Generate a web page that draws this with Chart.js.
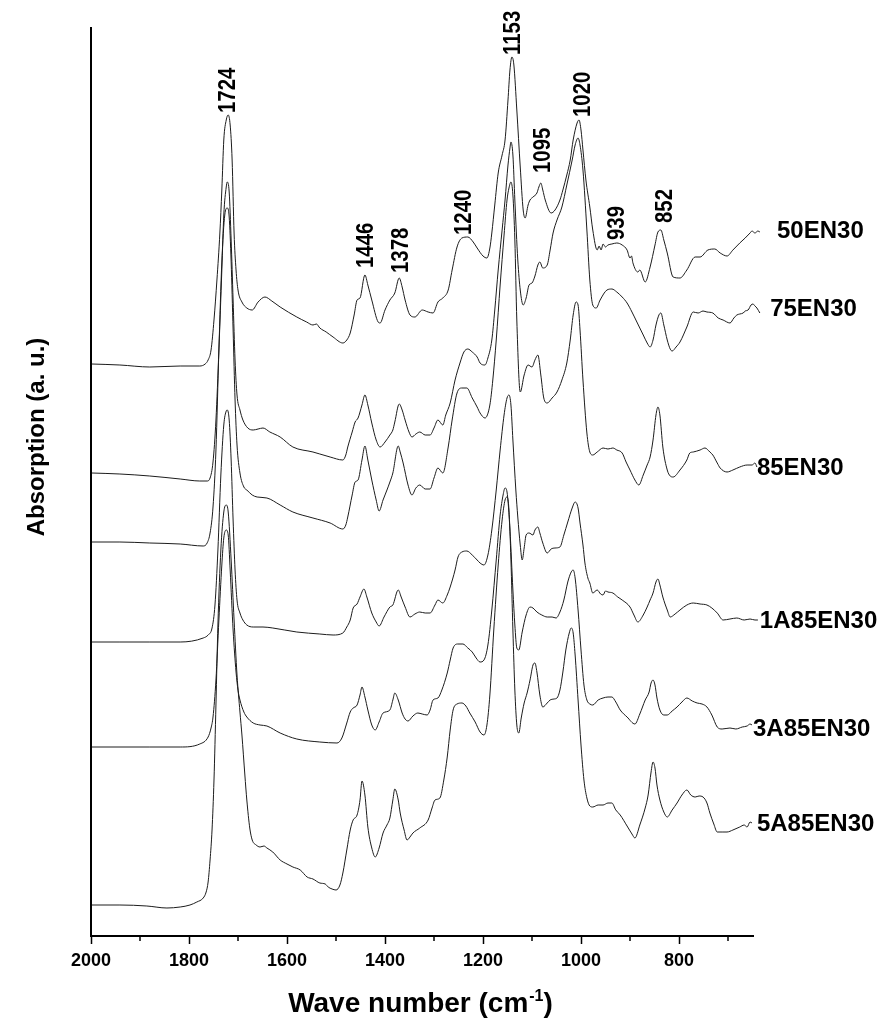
<!DOCTYPE html>
<html><head><meta charset="utf-8">
<script src="https://cdn.jsdelivr.net/npm/chart.js@4.4.1/dist/chart.umd.min.js"></script>
<style>html,body{margin:0;padding:0;background:#fff}#wrap{width:886px;height:1018px}</style>
</head><body><div id="wrap"><canvas id="c" width="886" height="1018"></canvas></div>
<script>
// [wavenumber (cm-1), absorption (a.u., stacked)]
const s50EN30 = [[1998,5.72],[1941,5.71],[1880,5.69],[1818,5.70],[1778,5.70],[1767,5.72],[1761,5.76],[1755,5.86],[1749,6.16],[1743,6.56],[1737,7.03],[1733,7.46],[1729,7.96],[1724,8.16],[1720,8.21],[1716,8.11],[1712,7.76],[1708,7.03],[1704,6.66],[1700,6.46],[1692,6.34],[1682,6.28],[1671,6.26],[1659,6.34],[1645,6.39],[1631,6.35],[1614,6.29],[1580,6.19],[1560,6.14],[1547,6.11],[1540,6.12],[1533,6.08],[1520,6.04],[1506,5.99],[1486,5.93],[1478,5.96],[1471,6.03],[1463,6.21],[1457,6.36],[1451,6.38],[1441,6.61],[1435,6.51],[1427,6.36],[1414,6.14],[1410,6.13],[1400,6.26],[1390,6.36],[1380,6.43],[1371,6.58],[1365,6.49],[1359,6.36],[1349,6.21],[1339,6.19],[1324,6.26],[1312,6.24],[1302,6.23],[1292,6.34],[1282,6.38],[1271,6.46],[1263,6.66],[1253,6.89],[1243,6.98],[1231,6.99],[1220,6.94],[1212,6.88],[1200,6.80],[1192,6.78],[1186,6.88],[1182,7.03],[1176,7.31],[1169,7.63],[1161,7.81],[1155,7.96],[1149,8.36],[1145,8.66],[1141,8.79],[1137,8.71],[1131,8.26],[1124,7.69],[1118,7.26],[1114,7.18],[1108,7.31],[1104,7.36],[1098,7.39],[1090,7.43],[1086,7.49],[1082,7.53],[1078,7.46],[1073,7.36],[1061,7.23],[1053,7.26],[1043,7.36],[1037,7.46],[1029,7.61],[1022,7.76],[1016,7.96],[1008,8.13],[1004,8.16],[1000,8.06],[996,7.86],[990,7.56],[982,7.29],[976,7.06],[967,6.86],[963,6.90],[959,6.86],[955,6.92],[950,6.89],[945,6.91],[937,6.92],[927,6.93],[916,6.91],[906,6.86],[900,6.78],[897,6.80],[894,6.73],[884,6.64],[880,6.66],[869,6.54],[859,6.69],[849,6.91],[843,7.04],[837,7.06],[831,6.96],[824,6.83],[812,6.59],[798,6.58],[784,6.66],[767,6.79],[757,6.79],[741,6.86],[727,6.87],[716,6.83],[702,6.80],[690,6.86],[676,6.93],[665,6.98],[655,7.03],[651,7.05],[645,7.03],[639,7.05],[635,7.04]];
const s75EN30 = [[1998,4.63],[1941,4.62],[1880,4.60],[1818,4.57],[1778,4.55],[1763,4.55],[1757,4.58],[1751,4.74],[1745,5.16],[1739,5.86],[1733,6.66],[1729,7.21],[1724,7.49],[1722,7.54],[1718,7.44],[1714,6.96],[1710,6.36],[1706,5.76],[1702,5.41],[1696,5.26],[1690,5.16],[1680,5.08],[1669,5.06],[1659,5.07],[1649,5.08],[1635,5.04],[1614,4.99],[1588,4.89],[1547,4.84],[1533,4.82],[1512,4.79],[1486,4.76],[1480,4.81],[1476,4.89],[1467,5.04],[1461,5.14],[1455,5.18],[1447,5.31],[1441,5.41],[1435,5.31],[1427,5.13],[1418,4.96],[1410,4.89],[1400,4.94],[1390,5.01],[1384,5.06],[1380,5.14],[1371,5.32],[1365,5.26],[1359,5.16],[1351,5.04],[1345,4.99],[1337,5.02],[1329,5.04],[1318,5.01],[1308,5.01],[1300,5.08],[1292,5.16],[1282,5.11],[1276,5.21],[1267,5.33],[1257,5.56],[1247,5.73],[1239,5.84],[1231,5.87],[1222,5.84],[1212,5.79],[1206,5.73],[1196,5.71],[1190,5.78],[1182,5.96],[1176,6.26],[1169,6.66],[1161,7.06],[1155,7.36],[1149,7.71],[1145,7.88],[1143,7.94],[1139,7.81],[1135,7.36],[1129,6.76],[1124,6.46],[1118,6.31],[1112,6.38],[1106,6.51],[1100,6.53],[1094,6.60],[1088,6.71],[1084,6.74],[1078,6.68],[1069,6.71],[1063,6.86],[1057,7.03],[1049,7.16],[1039,7.29],[1029,7.51],[1018,7.76],[1012,7.91],[1006,7.98],[1002,7.91],[996,7.66],[988,7.06],[982,6.56],[976,6.31],[969,6.28],[961,6.36],[947,6.46],[937,6.47],[927,6.44],[916,6.39],[906,6.33],[896,6.24],[886,6.14],[873,6.01],[865,5.93],[859,5.89],[853,5.96],[847,6.11],[841,6.21],[837,6.23],[831,6.11],[824,5.96],[818,5.87],[814,5.85],[806,5.89],[798,5.94],[784,6.09],[771,6.24],[761,6.23],[751,6.25],[743,6.24],[731,6.23],[720,6.18],[710,6.16],[696,6.13],[688,6.18],[682,6.21],[676,6.22],[669,6.23],[665,6.25],[659,6.26],[653,6.31],[649,6.32],[645,6.30],[641,6.28],[635,6.23]];
const s85EN30 = [[1998,3.94],[1941,3.94],[1880,3.93],[1818,3.92],[1771,3.90],[1763,3.93],[1757,4.03],[1751,4.29],[1745,4.86],[1739,5.86],[1733,6.74],[1727,7.21],[1722,7.28],[1718,7.19],[1714,6.74],[1710,6.06],[1706,5.36],[1702,4.91],[1696,4.63],[1688,4.49],[1682,4.46],[1671,4.41],[1661,4.39],[1641,4.38],[1614,4.31],[1588,4.24],[1547,4.18],[1512,4.13],[1486,4.07],[1480,4.11],[1476,4.19],[1467,4.41],[1461,4.54],[1455,4.56],[1447,4.76],[1441,4.90],[1435,4.76],[1427,4.56],[1418,4.36],[1412,4.25],[1404,4.36],[1396,4.46],[1390,4.54],[1384,4.63],[1373,4.90],[1369,4.84],[1363,4.73],[1353,4.51],[1345,4.41],[1337,4.48],[1329,4.51],[1318,4.47],[1308,4.47],[1300,4.58],[1292,4.68],[1282,4.63],[1271,4.89],[1263,5.16],[1253,5.43],[1243,5.48],[1233,5.48],[1222,5.38],[1212,5.29],[1206,5.23],[1196,5.18],[1186,5.31],[1180,5.56],[1173,5.96],[1165,6.51],[1157,7.01],[1151,7.36],[1147,7.48],[1143,7.54],[1139,7.41],[1135,6.96],[1131,6.16],[1124,5.44],[1116,5.61],[1108,5.71],[1100,5.69],[1094,5.76],[1088,5.81],[1082,5.61],[1076,5.38],[1069,5.33],[1059,5.38],[1049,5.44],[1039,5.56],[1029,5.73],[1022,5.96],[1016,6.21],[1010,6.34],[1006,6.31],[1002,6.06],[996,5.56],[988,5.03],[982,4.84],[976,4.81],[967,4.84],[955,4.88],[945,4.87],[935,4.88],[927,4.86],[916,4.83],[908,4.74],[900,4.66],[890,4.56],[882,4.51],[873,4.61],[865,4.71],[859,4.79],[853,4.96],[847,5.21],[843,5.29],[839,5.21],[833,4.89],[824,4.66],[818,4.60],[812,4.59],[798,4.66],[784,4.76],[778,4.83],[771,4.84],[757,4.86],[747,4.88],[737,4.84],[731,4.81],[722,4.73],[716,4.68],[702,4.64],[690,4.66],[676,4.69],[661,4.71],[651,4.71],[645,4.73],[641,4.69]];
const s1A85EN30 = [[1998,2.94],[1941,2.94],[1880,2.94],[1818,2.94],[1771,2.98],[1761,3.01],[1753,3.08],[1747,3.31],[1741,3.86],[1735,4.61],[1729,5.11],[1724,5.25],[1722,5.26],[1718,5.16],[1714,4.76],[1710,4.16],[1706,3.66],[1702,3.36],[1696,3.23],[1690,3.16],[1682,3.11],[1669,3.09],[1649,3.09],[1629,3.08],[1580,3.04],[1533,3.02],[1506,3.01],[1486,3.03],[1478,3.09],[1471,3.16],[1465,3.28],[1457,3.32],[1451,3.39],[1443,3.47],[1437,3.39],[1427,3.23],[1418,3.14],[1412,3.10],[1402,3.19],[1390,3.29],[1384,3.31],[1373,3.46],[1367,3.39],[1359,3.29],[1349,3.19],[1339,3.22],[1329,3.24],[1318,3.23],[1308,3.23],[1298,3.31],[1292,3.36],[1282,3.33],[1273,3.41],[1267,3.49],[1257,3.66],[1251,3.79],[1243,3.84],[1233,3.85],[1222,3.81],[1212,3.76],[1206,3.73],[1198,3.71],[1190,3.81],[1182,4.06],[1173,4.46],[1165,4.86],[1157,5.21],[1151,5.38],[1147,5.41],[1143,5.31],[1139,4.96],[1133,4.46],[1129,4.19],[1124,3.91],[1120,3.76],[1116,3.88],[1112,4.01],[1106,4.03],[1098,4.01],[1094,4.06],[1088,4.09],[1084,4.03],[1078,3.93],[1069,3.83],[1061,3.87],[1053,3.88],[1043,3.89],[1035,4.01],[1027,4.14],[1018,4.28],[1012,4.34],[1006,4.28],[1002,4.13],[996,3.91],[992,3.73],[986,3.58],[982,3.53],[976,3.43],[967,3.46],[960,3.42],[955,3.41],[950,3.45],[945,3.44],[935,3.43],[925,3.39],[916,3.36],[900,3.29],[892,3.21],[884,3.14],[873,3.21],[865,3.29],[859,3.36],[853,3.43],[847,3.54],[843,3.57],[839,3.51],[833,3.39],[824,3.26],[818,3.19],[808,3.22],[798,3.26],[784,3.31],[771,3.33],[757,3.32],[743,3.31],[733,3.28],[722,3.23],[710,3.16],[696,3.17],[682,3.18],[667,3.16],[655,3.17],[645,3.16],[639,3.16]];
const s3A85EN30 = [[1998,1.89],[1880,1.89],[1818,1.89],[1778,1.92],[1761,1.99],[1755,2.08],[1751,2.19],[1745,2.56],[1739,3.16],[1733,3.71],[1729,3.98],[1724,4.06],[1720,4.01],[1716,3.66],[1710,3.06],[1704,2.64],[1700,2.46],[1696,2.36],[1688,2.24],[1682,2.19],[1669,2.13],[1655,2.11],[1641,2.10],[1614,2.03],[1580,1.97],[1533,1.94],[1498,1.93],[1488,1.98],[1478,2.13],[1471,2.24],[1465,2.28],[1457,2.31],[1451,2.41],[1447,2.49],[1441,2.39],[1435,2.26],[1427,2.11],[1420,2.06],[1412,2.14],[1404,2.23],[1390,2.26],[1384,2.36],[1380,2.43],[1373,2.36],[1365,2.23],[1359,2.17],[1353,2.15],[1343,2.20],[1333,2.23],[1324,2.22],[1314,2.21],[1308,2.26],[1302,2.36],[1292,2.38],[1284,2.46],[1273,2.63],[1267,2.76],[1261,2.88],[1251,2.92],[1241,2.92],[1231,2.88],[1222,2.84],[1214,2.78],[1206,2.74],[1198,2.76],[1190,2.91],[1182,3.26],[1173,3.76],[1165,4.21],[1159,4.41],[1155,4.48],[1151,4.44],[1145,4.06],[1139,3.46],[1135,3.11],[1131,2.88],[1127,2.86],[1120,3.04],[1112,3.21],[1104,3.29],[1098,3.28],[1090,3.24],[1080,3.21],[1069,3.19],[1059,3.19],[1051,3.18],[1043,3.24],[1035,3.36],[1027,3.54],[1020,3.64],[1016,3.66],[1012,3.58],[1006,3.26],[1000,2.86],[994,2.51],[988,2.36],[982,2.32],[976,2.31],[965,2.36],[955,2.38],[945,2.39],[937,2.39],[929,2.34],[920,2.26],[906,2.19],[890,2.12],[880,2.22],[869,2.36],[861,2.44],[857,2.53],[853,2.56],[849,2.51],[845,2.38],[839,2.26],[831,2.21],[824,2.21],[814,2.25],[804,2.29],[794,2.34],[784,2.38],[773,2.35],[763,2.33],[753,2.32],[743,2.29],[733,2.21],[722,2.09],[712,2.07],[696,2.08],[684,2.07],[671,2.09],[661,2.10],[655,2.12],[651,2.11]];
const s5A85EN30 = [[1998,0.31],[1941,0.31],[1886,0.30],[1845,0.28],[1818,0.29],[1798,0.31],[1784,0.34],[1771,0.38],[1765,0.44],[1761,0.54],[1757,0.76],[1753,1.06],[1749,1.56],[1745,2.31],[1741,3.11],[1735,3.86],[1729,4.24],[1724,4.31],[1720,4.24],[1714,3.76],[1708,3.16],[1702,2.61],[1696,2.24],[1692,2.01],[1686,1.61],[1682,1.36],[1676,1.08],[1671,0.96],[1663,0.91],[1655,0.89],[1647,0.90],[1641,0.88],[1629,0.84],[1614,0.76],[1600,0.72],[1588,0.69],[1573,0.66],[1559,0.59],[1547,0.57],[1533,0.53],[1522,0.52],[1516,0.49],[1508,0.47],[1500,0.46],[1492,0.51],[1486,0.63],[1478,0.86],[1471,1.06],[1465,1.16],[1457,1.21],[1451,1.36],[1447,1.55],[1441,1.41],[1435,1.09],[1427,0.88],[1420,0.79],[1412,0.88],[1404,1.03],[1396,1.11],[1390,1.18],[1384,1.36],[1380,1.47],[1373,1.36],[1369,1.23],[1361,1.06],[1355,0.96],[1349,0.99],[1343,1.03],[1329,1.08],[1312,1.16],[1304,1.28],[1298,1.36],[1288,1.38],[1280,1.56],[1273,1.79],[1267,2.06],[1261,2.26],[1253,2.32],[1243,2.33],[1235,2.30],[1227,2.23],[1216,2.14],[1206,2.04],[1198,2.01],[1192,2.11],[1186,2.41],[1178,3.06],[1169,3.71],[1161,4.16],[1155,4.36],[1151,4.39],[1147,4.26],[1143,3.76],[1139,3.06],[1135,2.46],[1131,2.11],[1127,2.03],[1122,2.18],[1116,2.33],[1110,2.43],[1104,2.56],[1098,2.71],[1094,2.73],[1090,2.64],[1084,2.41],[1078,2.29],[1069,2.33],[1063,2.36],[1055,2.37],[1049,2.38],[1043,2.46],[1037,2.64],[1031,2.86],[1024,3.03],[1020,3.08],[1016,3.03],[1012,2.81],[1006,2.36],[1000,1.91],[994,1.56],[988,1.38],[982,1.30],[976,1.29],[965,1.31],[955,1.31],[945,1.33],[937,1.33],[929,1.26],[920,1.21],[906,1.10],[896,1.02],[890,0.98],[880,1.11],[869,1.28],[863,1.41],[857,1.64],[853,1.74],[849,1.68],[845,1.51],[839,1.36],[831,1.24],[824,1.19],[814,1.26],[804,1.33],[794,1.41],[784,1.46],[776,1.41],[767,1.39],[759,1.40],[751,1.39],[743,1.33],[737,1.23],[729,1.12],[722,1.04],[712,1.04],[702,1.04],[690,1.06],[676,1.09],[667,1.11],[661,1.09],[655,1.14],[651,1.13]];

const seriesNames = ['50EN30','75EN30','85EN30','1A85EN30','3A85EN30','5A85EN30'];
const seriesLabelWn = [600,614,641,635,649,641];
const seriesLabelAbs = [7.06,6.28,4.69,3.16,2.08,1.13];

const peakLabels = ['1724','1446','1378','1240','1153','1095','1020','939','852'];
const peakLabelWn = [1722,1441,1369,1241,1141,1078,998,927,829];
const peakLabelAbs = [8.23,6.68,6.63,7.01,8.81,7.63,8.19,6.96,7.13];

const xTickValues = [2000,1900,1800,1700,1600,1500,1400,1300,1200,1100,1000,900,800,700];
const xTickLabels = ['2000','','1800','','1600','','1400','','1200','','1000','','800',''];

const FONT = '"Liberation Sans", Arial, Helvetica, sans-serif';
const allSeries = [s50EN30, s75EN30, s85EN30, s1A85EN30, s3A85EN30, s5A85EN30];

const deco = {
  id: 'deco',
  afterDraw(chart) {
    const ctx = chart.ctx, xs = chart.scales.x, ys = chart.scales.y, ca = chart.chartArea;
    ctx.save();
    // minor ticks
    ctx.strokeStyle = '#000'; ctx.lineWidth = 1.5;
    xTickValues.forEach((v, i) => {
      if (xTickLabels[i] === '') {
        const px = Math.round(xs.getPixelForValue(v));
        ctx.beginPath(); ctx.moveTo(px, ca.bottom); ctx.lineTo(px, ca.bottom + 5); ctx.stroke();
      }
    });
    ctx.fillStyle = '#000';
    // peak labels (vertical, tall narrow glyphs)
    ctx.font = 'bold 24px ' + FONT;
    ctx.textAlign = 'left'; ctx.textBaseline = 'middle';
    peakLabels.forEach((t, i) => {
      const px = xs.getPixelForValue(peakLabelWn[i]);
      const py = ys.getPixelForValue(peakLabelAbs[i]);
      ctx.save(); ctx.translate(px, py); ctx.rotate(-Math.PI / 2); ctx.scale(0.85, 1); ctx.fillText(t, 0, 1); ctx.restore();
    });
    // series labels
    ctx.font = 'bold 24px ' + FONT;
    seriesNames.forEach((t, i) => {
      ctx.fillText(t, xs.getPixelForValue(seriesLabelWn[i]), ys.getPixelForValue(seriesLabelAbs[i]) + 1);
    });
    // x title with superscript
    const p1 = 'Wave number (cm', sup = '-1', p2 = ')';
    const big = 'bold 28px ' + FONT, small = 'bold 16px ' + FONT;
    ctx.textBaseline = 'alphabetic';
    ctx.font = big; const w1 = ctx.measureText(p1).width, w3 = ctx.measureText(p2).width;
    ctx.font = small; const w2 = ctx.measureText(sup).width;
    const cx = (ca.left + ca.right) / 2 - 2;
    let x0 = cx - (w1 + w2 + w3) / 2; const yb = 1012;
    ctx.font = big; ctx.fillText(p1, x0, yb);
    ctx.font = small; ctx.fillText(sup, x0 + w1 + 1, yb - 11);
    ctx.font = big; ctx.fillText(p2, x0 + w1 + w2 + 1, yb);
    // y title
    ctx.font = 'bold 24px ' + FONT;
    ctx.textAlign = 'center';
    ctx.save(); ctx.translate(44, 437); ctx.rotate(-Math.PI / 2); ctx.fillText('Absorption (a. u.)', 0, 0); ctx.restore();
    ctx.restore();
  }
};

const datasets = allSeries.map((s, i) => ({
  label: seriesNames[i],
  data: s.map(p => ({x: p[0], y: p[1]})),
  borderColor: '#1c1c1c',
  borderWidth: 1,
  pointRadius: 0,
  fill: false,
  clip: false,
  cubicInterpolationMode: 'monotone'
}));

new Chart(document.getElementById('c').getContext('2d'), {
  type: 'line',
  data: {datasets},
  options: {
    responsive: false,
    animation: false,
    events: [],
    layout: {padding: {left: 91, right: 133, top: 28, bottom: 0}},
    plugins: {legend: {display: false}, tooltip: {enabled: false}, title: {display: false}},
    scales: {
      x: {
        type: 'linear', reverse: true, min: 649, max: 2000, bounds: 'data',
        afterBuildTicks: s => { s.ticks = xTickValues.map(v => ({value: v})); },
        afterFit: s => { s.height = 82; },
        ticks: {
          autoSkip: false, maxRotation: 0, minRotation: 0, padding: 6, color: '#000',
          font: {family: FONT, size: 18, weight: 'bold'},
          callback: v => { const i = xTickValues.indexOf(v); return i >= 0 ? xTickLabels[i] : ''; }
        },
        grid: {
          display: true, drawOnChartArea: false, drawTicks: true, tickLength: 8, tickWidth: 1.5,
          tickColor: c => { const i = c.tick ? xTickValues.indexOf(c.tick.value) : -1; return (i >= 0 && xTickLabels[i] !== '') ? '#000' : 'rgba(0,0,0,0)'; }
        },
        border: {display: true, color: '#000', width: 2}
      },
      y: {
        type: 'linear', min: 0, max: 9.08,
        ticks: {display: false},
        grid: {display: false},
        border: {display: true, color: '#000', width: 2},
        afterFit: s => { s.width = 0; }
      }
    }
  },
  plugins: [deco]
});
</script>
</body></html>
